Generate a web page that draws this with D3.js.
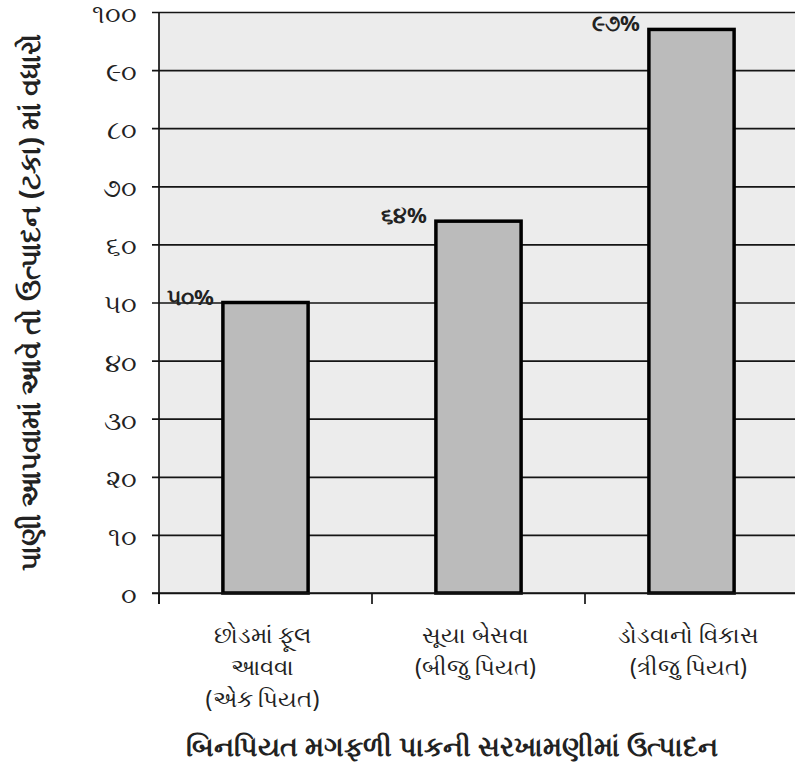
<!DOCTYPE html>
<html>
<head>
<meta charset="utf-8">
<script src="https://cdn.jsdelivr.net/npm/d3@7"></script>
<style>
body { margin: 0; background: #fff; }
svg { display: block; font-family: "Noto Sans", "DejaVu Sans", sans-serif; }
</style>
</head>
<body>
<div id="plot"></div>
<script>
// categories (each label split into lines), values and label text
var categories = [
    ['છોડમાં ફૂલ', 'આવવા', '(એક પિયત)'],
    ['સૂયા બેસવા', '(બીજુ પિયત)'],
    ['ડોડવાનો વિકાસ', '(ત્રીજુ પિયત)']
];
var values = [50, 64, 97];
var valueLabels = ['૫૦%', '૬૪%', '૯૭%'];
var yTicks = [0, 10, 20, 30, 40, 50, 60, 70, 80, 90, 100];
var yTickLabels = ['૦', '૧૦', '૨૦', '૩૦', '૪૦', '૫૦', '૬૦', '૭૦', '૮૦', '૯૦', '૧૦૦'];
var yTitle = 'પાણી આપવામાં આવે તો ઉત્પાદન (ટકા) માં વધારો';
var xTitle = 'બિનપિયત મગફળી પાકની સરખામણીમાં ઉત્પાદન';

var width = 795, height = 769;
var margin = {top: 12, right: -3, bottom: 176, left: 159},
    innerwidth = width - margin.left - margin.right,
    innerheight = height - margin.top - margin.bottom;

var x = d3.scaleBand().domain(d3.range(categories.length))
    .range([0, innerwidth]).paddingInner(0.6).paddingOuter(0.3);
var xb = d3.scaleLinear().domain([0, categories.length]).range([0, innerwidth]);
var y = d3.scaleLinear().domain([0, 100]).range([innerheight, 0]);

var root = d3.select('#plot').append('svg')
    .attr('width', width)
    .attr('height', height);
var svg = root.append('g')
    .attr('transform', 'translate(' + margin.left + ',' + margin.top + ')');

// background
svg.append('rect')
    .attr('width', innerwidth).attr('height', innerheight)
    .attr('fill', '#ececec');

// grid lines + ticks
var yAxis = svg.append('g')
    .call(d3.axisLeft(y).tickValues(yTicks)
        .tickSize(-innerwidth).tickSizeOuter(0).tickPadding(22)
        .tickFormat(function(d, i) { return yTickLabels[i]; }));
yAxis.select('.domain').remove();
yAxis.selectAll('.tick line')
    .attr('x1', -7)
    .attr('stroke', '#151515').attr('stroke-width', 1.7);
yAxis.selectAll('.tick text')
    .attr('fill', '#222')
    .attr('dy', '0.4em')
    .style('font-size', '26px')
    .style('font-family', 'inherit');

// bars
svg.selectAll('.bar')
    .data(values)
    .enter()
    .append('rect')
    .attr('class', 'bar')
    .attr('x', function(d, i) { return x(i); })
    .attr('y', function(d) { return y(d); })
    .attr('width', x.bandwidth())
    .attr('height', function(d) { return innerheight - y(d); })
    .attr('fill', '#bbbbbb')
    .attr('stroke', '#000')
    .attr('stroke-width', 3.5);

// value labels
svg.selectAll('.vlabel')
    .data(values)
    .enter()
    .append('text')
    .attr('class', 'vlabel')
    .attr('x', function(d, i) { return x(i) - 9; })
    .attr('y', function(d) { return y(d) + 2; })
    .style('text-anchor', 'end')
    .style('font-size', '22px')
    .style('font-weight', 'bold')
    .attr('fill', '#222')
    .text(function(d, i) { return valueLabels[i]; });

// axes lines
svg.append('line')
    .attr('x1', 0).attr('x2', 0)
    .attr('y1', 0).attr('y2', innerheight + 11)
    .attr('stroke', '#151515').attr('stroke-width', 1.7);
svg.append('line')
    .attr('x1', -7).attr('x2', innerwidth)
    .attr('y1', innerheight).attr('y2', innerheight)
    .attr('stroke', '#151515').attr('stroke-width', 1.7);
svg.selectAll('.xtick')
    .data(d3.range(categories.length + 1))
    .enter()
    .append('line')
    .attr('class', 'xtick')
    .attr('x1', function(d) { return xb(d); })
    .attr('x2', function(d) { return xb(d); })
    .attr('y1', innerheight).attr('y2', innerheight + 11)
    .attr('stroke', '#151515').attr('stroke-width', 1.7);

// category labels
var cl = svg.selectAll('.clabel')
    .data(categories)
    .enter()
    .append('text')
    .attr('class', 'clabel')
    .attr('transform', function(d, i) {
        return 'translate(' + (x(i) + x.bandwidth() / 2 - 3) + ',' + (innerheight + 50) + ')'; })
    .style('text-anchor', 'middle')
    .style('font-size', '23px')
    .attr('fill', '#222');
cl.selectAll('tspan')
    .data(function(d) { return d; })
    .enter()
    .append('tspan')
    .attr('x', 0)
    .attr('y', function(d, i) { return i * 32; })
    .text(function(d) { return d; });

// titles
root.append('text')
    .attr('transform', 'translate(40,' + (margin.top + innerheight / 2) + ') rotate(-90)')
    .style('text-anchor', 'middle')
    .style('font-size', '28px')
    .style('font-weight', 'bold')
    .attr('fill', '#222')
    .text(yTitle);
root.append('text')
    .attr('x', 452).attr('y', 756)
    .style('text-anchor', 'middle')
    .style('font-size', '27px')
    .style('font-weight', 'bold')
    .attr('fill', '#222')
    .text(xTitle);
</script>
</body>
</html>
